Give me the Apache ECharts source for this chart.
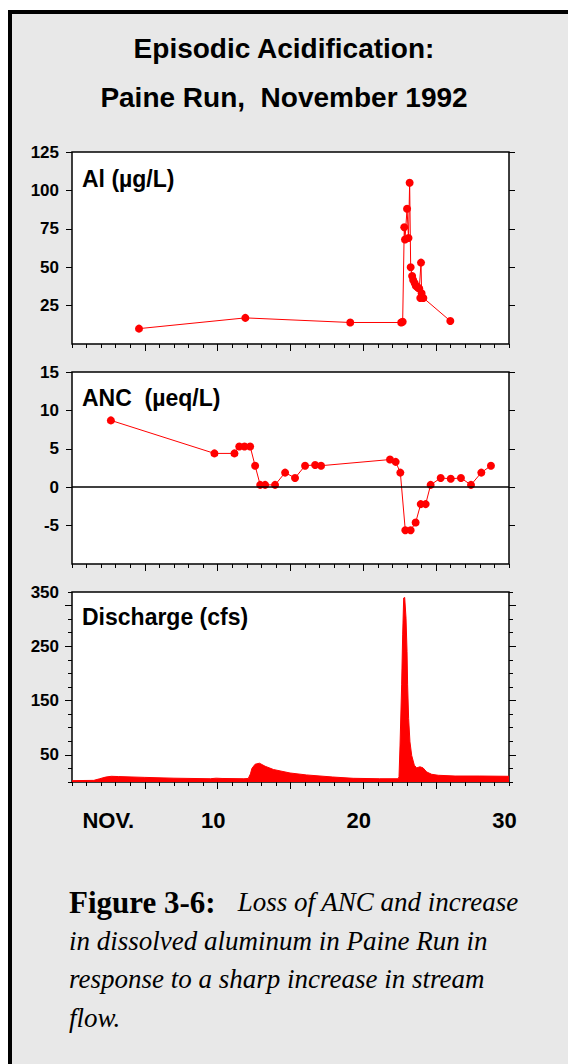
<!DOCTYPE html>
<html>
<head>
<meta charset="utf-8">
<script src="https://cdn.jsdelivr.net/npm/echarts@6/dist/echarts.min.js"></script>
<style>
  html, body { margin: 0; padding: 0; background: #ffffff; }
  #frame { position: absolute; left: 8px; top: 10px; width: 560px; height: 1054px;
           border-left: 4px solid #000; border-top: 4px solid #000; background: #e8e8e8; box-sizing: border-box; }
  #chart { position: absolute; left: 0; top: 0; width: 568px; height: 1064px; }
</style>
</head>
<body>
<div id="frame"></div>
<div id="chart"></div>
<script>
// ---- Data ----
const alDays   = [4.6, 11.9, 19.1, 22.6, 22.7, 22.81, 22.86, 23.0, 23.1, 23.18, 23.25, 23.35, 23.42, 23.52, 23.6, 23.7, 23.78, 23.84, 23.96, 24.0, 23.91, 24.12, 25.97];
const alValues = [10, 17, 14, 14, 14.5, 76, 68, 88, 69, 105, 50, 44.3, 41.7, 39.7, 37.9, 37.1, 36.4, 36.2, 53, 33, 30, 30, 15];

const ancDays   = [2.67, 9.78, 11.15, 11.48, 11.84, 12.23, 12.57, 12.92, 13.26, 13.94, 14.63, 15.31, 16.0, 16.69, 17.1, 21.83, 22.22, 22.54, 22.88, 23.25, 23.59, 23.94, 24.28, 24.62, 25.31, 26.0, 26.7, 27.39, 28.1, 28.76];
const ancValues = [8.7, 4.4, 4.4, 5.3, 5.3, 5.3, 2.8, 0.3, 0.3, 0.3, 1.9, 1.2, 2.8, 2.9, 2.8, 3.6, 3.3, 1.9, -5.6, -5.6, -4.6, -2.2, -2.2, 0.3, 1.2, 1.1, 1.2, 0.3, 1.9, 2.8];

const qDays   = [0, 1.5, 1.9, 2.3, 2.7, 3.2, 5, 7, 9.5, 9.9, 10.3, 11.8, 12.1, 12.25, 12.35, 12.57, 12.87, 13.26, 13.83, 14.97, 16.1, 17.9, 19.3, 21.1, 22.4, 22.45, 22.52, 22.63, 22.7, 22.77, 22.84, 22.93, 23.0, 23.04, 23.11, 23.2, 23.32, 23.5, 23.66, 23.89, 24.1, 24.35, 24.69, 25.14, 26.3, 28, 30];
const qValues = [2.5, 3, 6, 9, 10.5, 10, 8.5, 7, 6, 7, 6.5, 6, 6.5, 15, 25, 32.7, 34.6, 29, 23, 16.6, 13, 9.2, 6.8, 6, 6, 10, 68, 179, 271, 339, 340, 302, 240, 179, 117, 74, 49, 31, 26, 28, 26, 18.5, 14.2, 12.4, 11, 11, 10.5];

const xLabelDays  = [2.8, 10, 20, 30];
const xLabelTexts = ['NOV.', '10', '20', '30'];
const xMajorDays  = [5, 10, 15, 20, 25];
const alTicks  = [25, 50, 75, 100, 125];
const ancTicks = [-5, 0, 5, 10, 15];
const qLabelValues = [50, 150, 250, 350];
const qMajorTicks  = [50, 150, 250, 325];

const panelTitles = ['Al (µg/L)', 'ANC  (µeq/L)', 'Discharge (cfs)'];
const mainTitle = ['Episodic Acidification:', 'Paine Run,  November 1992'];

// ---- Layout ----
const SANS = '"Liberation Sans", Arial, sans-serif';
const SERIF = '"Liberation Serif", "Times New Roman", serif';
const grids = [
  { left: 72, right: 59, top: 152, height: 192 },
  { left: 72, right: 59, top: 372, height: 192 },
  { left: 72, right: 59, top: 592, height: 190 }
];
const gridStyle = { show: true, backgroundColor: '#ffffff', borderColor: '#000', borderWidth: 1.5 };
const tickLine = { color: '#000', width: 1 };
const yLabelStyle = { color: '#000', fontFamily: SANS, fontWeight: 'bold', fontSize: 17, margin: 13 };

const xAxes = [];
grids.forEach((g, i) => {
  xAxes.push({ gridIndex: i, type: 'value', min: 0, max: 30, interval: 1, position: 'bottom',
    axisLine: { show: false, onZero: false }, splitLine: { show: false },
    axisTick: { show: true, inside: false, length: 4, lineStyle: tickLine },
    axisLabel: { show: false } });
  xAxes.push({ gridIndex: i, type: 'value', min: 0, max: 30, interval: 5, position: 'bottom',
    axisLine: { show: false, onZero: false }, splitLine: { show: false },
    axisTick: { show: true, inside: false, length: 7, customValues: xMajorDays, lineStyle: tickLine },
    axisLabel: i === 2 ? {
      show: true, customValues: xLabelDays, margin: 27, padding: [0, 9, 0, 0],
      color: '#000', fontFamily: SANS, fontWeight: 'bold', fontSize: 22,
      formatter: v => { const k = xLabelDays.indexOf(v); return k >= 0 ? xLabelTexts[k] : ''; }
    } : { show: false } });
});

function yPair(gridIndex, min, max, ticks, labels, tickLen) {
  const base = { gridIndex, type: 'value', min, max,
    axisLine: { show: false, onZero: false }, splitLine: { show: false } };
  return [
    Object.assign({}, base, { position: 'left',
      axisTick: { show: true, inside: false, length: tickLen, customValues: ticks, lineStyle: tickLine },
      axisLabel: Object.assign({ customValues: labels }, yLabelStyle) }),
    Object.assign({}, base, { position: 'right',
      axisTick: { show: true, inside: false, length: tickLen, customValues: ticks, lineStyle: tickLine },
      axisLabel: { show: false } })
  ];
}
const yAxes = [].concat(
  yPair(0, 0, 125, alTicks, alTicks, 6),
  yPair(1, -10, 15, ancTicks, ancTicks, 6),
  yPair(2, 0, 350, qMajorTicks, qLabelValues, 7),
  [
    { gridIndex: 2, type: 'value', min: 0, max: 350, interval: 25, position: 'left',
      axisLine: { show: false, onZero: false }, splitLine: { show: false },
      axisTick: { show: true, inside: false, length: 4, lineStyle: tickLine }, axisLabel: { show: false } },
    { gridIndex: 2, type: 'value', min: 0, max: 350, interval: 25, position: 'right',
      axisLine: { show: false, onZero: false }, splitLine: { show: false },
      axisTick: { show: true, inside: false, length: 4, lineStyle: tickLine }, axisLabel: { show: false } }
  ]
);

const zip = (a, b) => a.map((d, k) => [d, b[k]]);
const RED = '#ff0000';
const panelTitleStyle = { fontFamily: SANS, fontWeight: 'bold', fontSize: 23, color: '#000' };
const mainTitleStyle = { fontFamily: SANS, fontWeight: 'bold', fontSize: 28, color: '#000' };

const option = {
  animation: false,
  backgroundColor: 'transparent',
  title: [
    { text: mainTitle[0], left: 'center', top: 34, padding: 0, textStyle: mainTitleStyle },
    { text: mainTitle[1], left: 'center', top: 83, padding: 0, textStyle: mainTitleStyle },
    { text: panelTitles[0], left: 82, top: 167, padding: 0, textStyle: panelTitleStyle },
    { text: panelTitles[1], left: 82, top: 386, padding: 0, textStyle: panelTitleStyle },
    { text: panelTitles[2], left: 82, top: 605, padding: 0, textStyle: panelTitleStyle }
  ],
  grid: grids.map(g => Object.assign({}, g, gridStyle)),
  xAxis: xAxes,
  yAxis: yAxes,
  series: [
    { type: 'line', xAxisIndex: 0, yAxisIndex: 0, data: zip(alDays, alValues),
      symbol: 'circle', symbolSize: 8, itemStyle: { color: RED },
      lineStyle: { color: RED, width: 1 } },
    { type: 'line', xAxisIndex: 2, yAxisIndex: 2, data: zip(ancDays, ancValues),
      symbol: 'circle', symbolSize: 8, itemStyle: { color: RED },
      lineStyle: { color: RED, width: 1 },
      markLine: { silent: true, symbol: 'none', label: { show: false },
        lineStyle: { color: '#000', width: 1.5, type: 'solid' }, data: [{ yAxis: 0 }] } },
    { type: 'line', xAxisIndex: 4, yAxisIndex: 4, data: zip(qDays, qValues),
      showSymbol: false, symbol: 'none', lineStyle: { color: RED, width: 1 },
      areaStyle: { color: RED, opacity: 1 } }
  ],
  graphic: [
    { type: 'text', x: 69, y: 883,
      style: {
        text: '{b|Figure 3-6:}{g| }{i|Loss of ANC and increase}\n{i|in dissolved aluminum in Paine Run in}\n{i|response to a sharp increase in stream}\n{i|flow.}',
        fill: '#000',
        rich: {
          b: { fontFamily: SERIF, fontWeight: 'bold', fontSize: 31, lineHeight: 38.5, fill: '#000' },
          g: { fontFamily: SERIF, fontSize: 27, lineHeight: 38.5, width: 22 },
          i: { fontFamily: SERIF, fontStyle: 'italic', fontSize: 27, lineHeight: 38.5, fill: '#000' }
        }
      } }
  ]
};

const chart = echarts.init(document.getElementById('chart'), null, { renderer: 'svg', width: 568, height: 1064 });
chart.setOption(option);
</script>
</body>
</html>
